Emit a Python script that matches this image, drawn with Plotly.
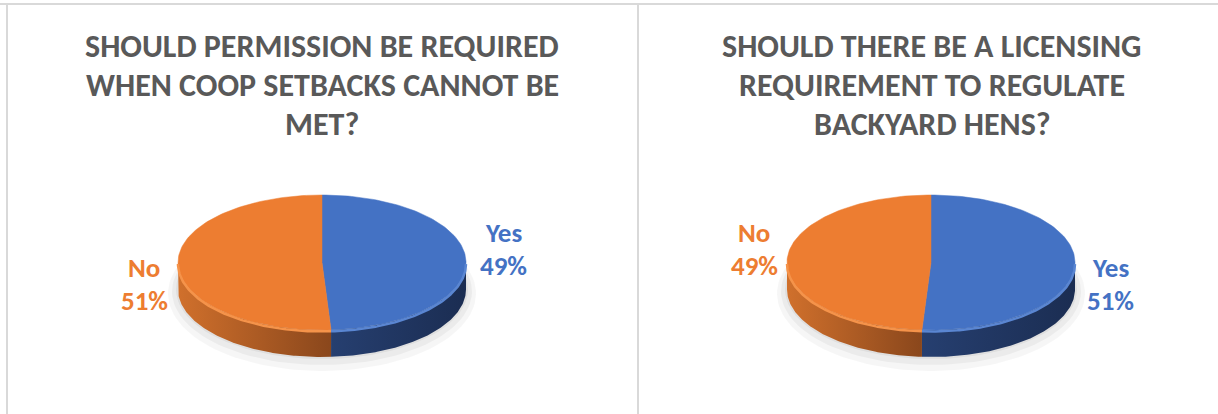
import numpy as np
import plotly.graph_objects as go

# ---------------- data ----------------
categories = ["Yes", "No"]
title_q1 = ["SHOULD PERMISSION BE REQUIRED", "WHEN COOP SETBACKS CANNOT BE", "MET?"]
title_q2 = ["SHOULD THERE BE A LICENSING", "REQUIREMENT TO REGULATE", "BACKYARD HENS?"]
q1_values = [49, 51]
q2_values = [51, 49]

# ---------------- style / layout ----------------
W, H = 1218, 414
top_colors = {"Yes": "#4472C4", "No": "#ED7D31"}
rim_colors = {"Yes": "#5A86D2", "No": "#F5934A"}
side_scales = {
    "Yes": [[0, "#263F70"], [1, "#1B2D52"]],
    "No": [[0, "#D0702C"], [1, "#8A471C"]],
}
title_color = "#595959"
FONT = "Calibri, Carlito, Lato, sans-serif"

pies = [
    dict(values=q1_values, title=title_q1, cx=322, cy=262.5, tx=322,
         labels={"Yes": (503, 232), "No": (144, 267)}),
    dict(values=q2_values, title=title_q2, cx=931, cy=262.5, tx=932,
         labels={"No": (754, 232), "Yes": (1110, 267)}),
]
RX, RY, DEPTH = 144, 67.5, 27
TITLE_Y = [46, 85, 124]
LABEL_GAP = 33


def arc(cx, cy, t0, t1, rx=RX, ry=RY, n=120):
    t = np.linspace(t0, t1, n)
    return cx + rx * np.sin(t), cy - ry * np.cos(t)


fig = go.Figure()
annotations = []

for p in pies:
    cx, cy = p["cx"], p["cy"]
    vals = np.array(p["values"], dtype=float)
    ang = np.concatenate([[0], np.cumsum(vals) / vals.sum() * 2 * np.pi])

    # soft shadow
    for grow, dy, alpha in [(10, 10, 0.035), (6, 8, 0.045), (2, 6, 0.05)]:
        sx, sy = arc(cx, cy + DEPTH + dy - 6, 0, 2 * np.pi, RX + grow, RY + grow)
        fig.add_trace(go.Scatter(x=sx, y=sy, mode="lines", fill="toself",
                                 fillcolor=f"rgba(0,0,0,{alpha})", line=dict(width=0),
                                 hoverinfo="skip", showlegend=False))

    # sides (front visible part)
    for i, cat in enumerate(categories):
        s0, s1 = max(ang[i], np.pi / 2), min(ang[i + 1], 3 * np.pi / 2)
        if s0 < s1:
            ux, uy = arc(cx, cy, s0, s1)
            bx, by = arc(cx, cy + DEPTH, s1, s0)
            fig.add_trace(go.Scatter(
                x=np.concatenate([ux, bx]), y=np.concatenate([uy, by]),
                mode="lines", fill="toself", line=dict(width=0),
                fillgradient=dict(type="horizontal", colorscale=side_scales[cat]),
                hoverinfo="skip", showlegend=False))

    # top faces
    for i, cat in enumerate(categories):
        ax_, ay_ = arc(cx, cy, ang[i], ang[i + 1])
        fig.add_trace(go.Scatter(
            x=np.concatenate([[cx], ax_, [cx]]), y=np.concatenate([[cy], ay_, [cy]]),
            mode="lines", fill="toself", fillcolor=top_colors[cat],
            line=dict(width=0.5, color=top_colors[cat]),
            hoverinfo="skip", showlegend=False, name=cat))

    # bevel rim along front edge
    for i, cat in enumerate(categories):
        s0, s1 = max(ang[i], np.pi / 2), min(ang[i + 1], 3 * np.pi / 2)
        if s0 < s1:
            rx_, ry_ = arc(cx, cy + 1.5, s0, s1)
            fig.add_trace(go.Scatter(x=rx_, y=ry_, mode="lines",
                                     line=dict(width=2.5, color=rim_colors[cat]),
                                     hoverinfo="skip", showlegend=False))

    # titles
    for k, line in enumerate(p["title"]):
        annotations.append(dict(x=p["tx"], y=TITLE_Y[k], xref="x", yref="y",
                                text=f"<b>{line}</b>", showarrow=False,
                                font=dict(family=FONT, size=32, color=title_color),
                                xanchor="center", yanchor="middle"))

    # data labels
    for cat, v in zip(categories, p["values"]):
        lx, ly = p["labels"][cat]
        for j, txt in enumerate([cat, f"{v}%"]):
            annotations.append(dict(x=lx, y=ly + j * LABEL_GAP, xref="x", yref="y",
                                    text=f"<b>{txt}</b>", showarrow=False,
                                    font=dict(family=FONT, size=27, color=top_colors[cat]),
                                    xanchor="center", yanchor="middle"))

# panel borders
border = dict(color="#D9D9D9", width=2)
shapes = [
    dict(type="line", xref="x", yref="y", x0=0, x1=W, y0=4, y1=4, line=border),
    dict(type="line", xref="x", yref="y", x0=7, x1=7, y0=4, y1=H, line=border),
    dict(type="line", xref="x", yref="y", x0=638, x1=638, y0=4, y1=H, line=border),
]

fig.update_layout(
    width=W, height=H, margin=dict(l=0, r=0, t=0, b=0),
    paper_bgcolor="white", plot_bgcolor="white",
    xaxis=dict(range=[0, W], visible=False, fixedrange=True),
    yaxis=dict(range=[H, 0], visible=False, fixedrange=True),
    annotations=annotations, shapes=shapes, showlegend=False,
)

fig.write_html("out.html", config={"displayModeBar": False},
               post_script="document.body.style.margin='0';")
